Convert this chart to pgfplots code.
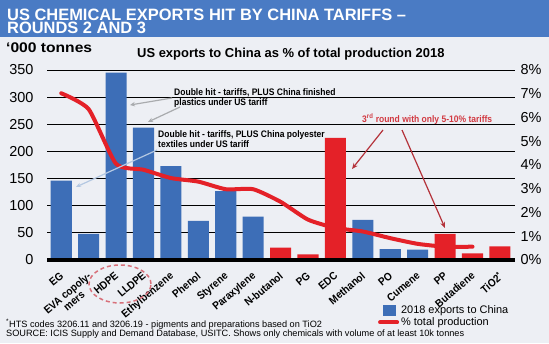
\documentclass[border=0pt]{standalone}
\usepackage{pgfplots}
\pgfplotsset{compat=1.18}
\usepackage{pgfplotstable}
\usepackage{fontspec}
\setmainfont{Liberation Sans}
\newfontfamily\cond[FakeStretch=0.9]{Liberation Sans}
\newfontfamily\wide[FakeStretch=1.12]{Liberation Sans}
\usetikzlibrary{arrows.meta}

\definecolor{bg}{HTML}{EDEFF4}
\definecolor{banner}{HTML}{4A7BC4}
\definecolor{barblue}{HTML}{3D6EB7}
\definecolor{barred}{HTML}{E42128}
\definecolor{annred}{HTML}{D23A42}
\definecolor{arrred}{HTML}{B4323A}
\definecolor{arrgray}{HTML}{A9ABAE}
\definecolor{arrblue}{HTML}{B4C8E2}
\definecolor{ellred}{HTML}{D8707A}

\pgfplotstableread{
x val
0 146
1 48
2 345
3 244
4 173
5 72
6 127
7 80
11 74
12 20
13 19
}\bluebars
\pgfplotstableread{
x val
8 23
9 10.5
10 225
14 48
15 12
16 25
}\redbars
\pgfplotstableread{
x pct
0 7.02
1 6.35
2 4.05
3 3.8
4 3.45
5 3.3
6 2.98
7 2.98
8 2.45
9 1.7
10 1.35
11 1.2
12 0.92
13 0.68
14 0.56
15 0.56
}\pctline

\begin{document}
\begin{tikzpicture}[x=1bp,y=1bp]
\fill[bg] (0,0) rectangle (549,343);
\fill[banner] (0,306) rectangle (549,343);
\node[anchor=base west, inner sep=0, text=white, font=\bfseries\fontsize{16.5}{16.5}\selectfont] at (7,323) {US CHEMICAL EXPORTS HIT BY CHINA TARIFFS –};
\node[anchor=base west, inner sep=0, text=white, font=\bfseries\fontsize{16.5}{16.5}\selectfont] at (7,310) {ROUNDS 2 AND 3};
\node[anchor=base west, inner sep=0, font=\wide\bfseries\fontsize{14}{14}\selectfont] at (6,291) {‘000 tonnes};
\node[anchor=base west, inner sep=0, font=\bfseries\fontsize{13}{13}\selectfont] at (137,286) {US exports to China as \% of total production 2018};

\begin{axis}[
  at={(47bp,83bp)}, anchor=south west, scale only axis, width=468bp, height=190bp,
  xmin=-0.52, xmax=16.55, ymin=0, ymax=350,
  axis line style={draw=none}, major tick length=0pt,
  ytick={0,50,...,350}, ymajorgrids, grid style={black, line width=0.8bp},
  xtick={0,...,16},
  xticklabels={EG, {EVA copoly-\\mers}, HDPE, LLDPE, Ethylbenzene, Phenol, Styrene, Paraxylene, N-butanol, PG, EDC, Methanol, PO, Cumene, PP, Butadiene, TiO2\textsuperscript{*}},
  xticklabel style={xshift=-2bp, yshift=-11bp, rotate=40, anchor=north east, align=center, inner sep=0pt, font=\cond\bfseries\fontsize{11}{10.5}\selectfont},
  yticklabel style={font=\fontsize{14.5}{14.5}\selectfont, xshift=-10bp},
  /pgf/number format/assume math mode=true,
  ybar, bar width=0.77,
  clip=false,
]
\addplot[fill=barblue, draw=none, bar shift=0pt] table[x=x,y=val]{\bluebars};
\addplot[fill=barred, draw=none, bar shift=0pt] table[x=x,y=val]{\redbars};
\draw[black, line width=4bp] (rel axis cs:0,0) -- (rel axis cs:1,0);
\end{axis}

\begin{axis}[
  at={(47bp,83bp)}, anchor=south west, scale only axis, width=468bp, height=190bp,
  xmin=-0.52, xmax=16.55, ymin=0, ymax=8,
  axis y line*=right, axis x line=none, axis line style={draw=none}, major tick length=0pt,
  ytick={0,...,8}, yticklabel={\pgfmathprintnumber{\tick}\%},
  yticklabel style={font=\fontsize{14.5}{14.5}\selectfont, xshift=2bp},
  /pgf/number format/assume math mode=true,
  legend style={at={(0.707,-0.226)}, anchor=north west, draw=none, fill=none, font=\fontsize{11}{11}\selectfont, row sep=-1bp, inner sep=0pt, legend cell align=left},
  clip=false,
]
\addlegendimage{legend image code/.code={\fill[barblue] (0bp,-5bp) rectangle (12bp,5bp);}}
\addlegendentry{2018 exports to China}
\addplot[barred, line width=4bp, line cap=round, smooth, tension=0.35, legend image code/.code={\draw[barred, line width=4bp] (-3bp,0) -- (14bp,0);}] table[x=x,y=pct]{\pctline};
\addlegendentry{\% total production}
\end{axis}

% annotations
\begin{scope}[font=\cond\bfseries\fontsize{9.5}{9.5}\selectfont]
\node[anchor=base west, inner sep=0] at (174,248) {Double hit - tariffs, PLUS China finished};
\node[anchor=base west, inner sep=0] at (174,238) {plastics under US tariff};
\node[anchor=base west, inner sep=0] at (158,206) {Double hit - tariffs, PLUS China polyester};
\node[anchor=base west, inner sep=0] at (158,196) {textiles under US tariff};
\node[anchor=base west, inner sep=0, text=annred] at (362,221) {3\textsuperscript{rd} round with only 5-10\% tariffs};
\end{scope}
\draw[arrgray, line width=1.2bp, -{Stealth[length=5bp,width=4.5bp]}] (172,245) -- (130,238);
\draw[arrgray, line width=1.2bp, -{Stealth[length=5bp,width=4.5bp]}] (180,236) -- (148,221);
\draw[arrblue, line width=1.2bp, -{Stealth[length=5bp,width=4.5bp]}] (157,193) -- (76,156);
\draw[arrred, line width=1.2bp, -{Stealth[length=6bp,width=5bp]}] (383,213) -- (352,174);
\draw[arrred, line width=1.2bp, -{Stealth[length=6bp,width=5bp]}] (402,213) -- (445,115);
\draw[ellred, dashed, line width=1.5bp, dash pattern=on 4bp off 3bp] (120,59) ellipse [x radius=31, y radius=19];

\node[anchor=base west, inner sep=0, font=\fontsize{9.2}{9.2}\selectfont] at (6,16) {\textsuperscript{*}HTS codes 3206.11 and 3206.19 - pigments and preparations based on TiO2};
\node[anchor=base west, inner sep=0, font=\fontsize{9.2}{9.2}\selectfont] at (6,7) {SOURCE: ICIS Supply and Demand Database, USITC. Shows only chemicals with volume of at least 10k tonnes};
\end{tikzpicture}
\end{document}
